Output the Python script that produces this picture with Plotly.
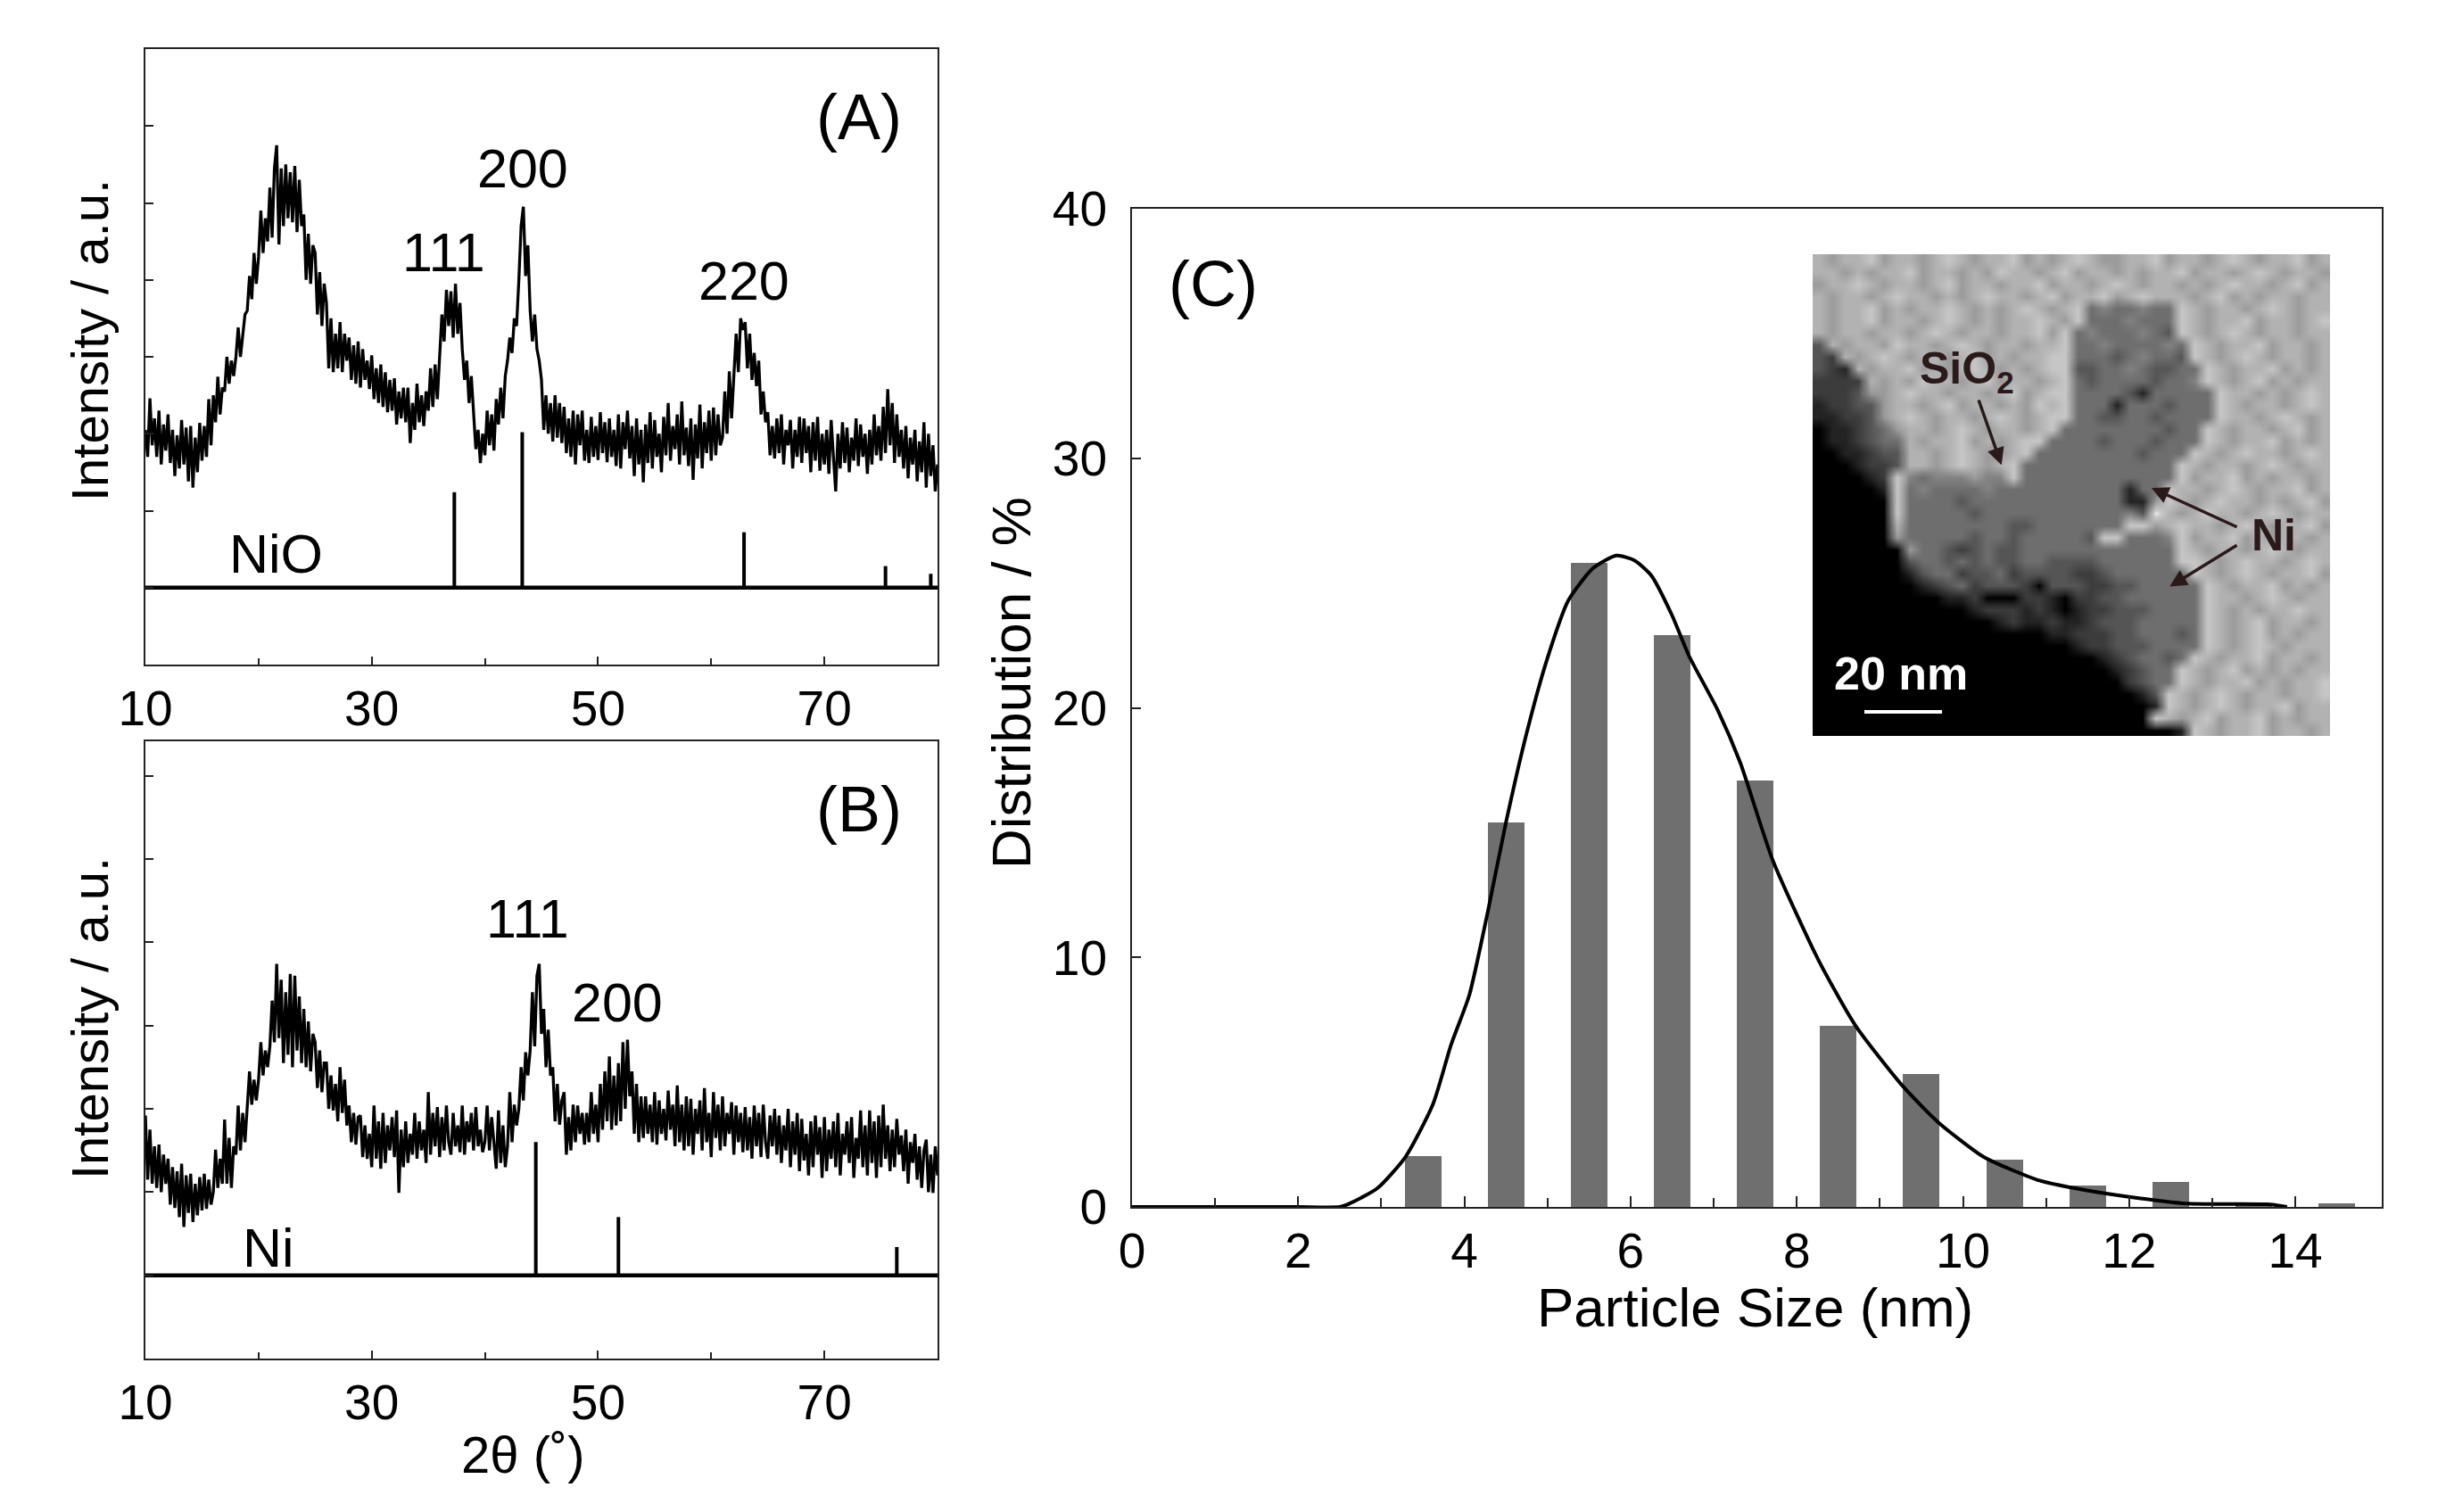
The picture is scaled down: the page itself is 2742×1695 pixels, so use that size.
import plotly.graph_objects as go

W, H = 2742, 1695
FONT = "Liberation Sans"

# ---------- data ----------
xrd_start = 10.0
xrd_step = 0.2

nio_intensity = [
 3.05,2.70,3.46,2.85,3.20, 2.70,3.30,2.60,3.12,2.78, 3.25,2.62,3.05,2.45,2.98, 2.55,3.18,2.60,3.08,2.38,
 3.10,2.30,2.95,2.50,3.14, 2.65,3.10,2.70,3.45,2.85, 3.50,3.15,3.74,3.25,3.60, 3.55,4.00,3.65,3.95,3.75,
 4.00,4.38,4.00,4.25,4.55, 4.60,5.05,4.75,5.35,4.95, 5.30,5.90,5.35,5.80,5.50, 6.20,5.55,6.45,6.75,5.46,
 6.45,5.70,6.50,5.80,6.40, 5.75,6.48,5.62,6.30,5.70, 5.85,5.00,5.60,4.95,5.45, 5.35,4.55,5.10,4.40,4.95,
 4.70,3.85,4.50,3.80,4.30, 3.85,4.45,3.80,4.30,3.95, 4.25,3.70,4.15,3.65,4.20, 3.60,4.10,3.70,3.95,3.58,
 4.02,3.45,3.85,3.40,3.90, 3.35,3.80,3.28,3.70,3.30, 3.72,3.12,3.55,3.20,3.60, 3.15,3.60,2.88,3.40,3.05,
 3.65,3.15,3.50,3.10,3.55, 3.30,3.85,3.35,3.90,3.45, 4.10,4.55,4.20,4.87,4.40, 4.85,4.25,4.95,4.30,4.70,
 4.10,3.70,3.95,3.40,3.75, 3.30,2.80,3.05,2.62,3.00, 2.72,3.30,2.85,3.25,2.78, 3.45,3.12,3.60,3.20,3.75,
 3.95,4.25,4.05,4.50,4.40, 5.00,5.70,5.95,5.05,5.45, 4.60,4.20,4.55,4.10,3.95, 3.70,3.05,3.50,3.00,3.40,
 2.90,3.50,2.95,3.40,2.88, 3.35,2.75,3.20,2.70,3.30, 2.60,3.25,2.85,3.30,2.65, 3.05,2.62,3.22,2.70,3.10,
 2.66,3.28,2.75,3.15,2.63, 3.20,2.70,3.05,2.58,3.25, 2.55,3.15,2.80,3.30,2.68, 3.10,2.45,3.20,2.60,3.05,
 2.37,3.12,2.62,3.28,2.55, 3.18,2.70,3.00,2.50,3.22, 2.72,3.40,2.65,3.10,2.80, 3.25,2.60,3.42,2.72,3.08,
 2.58,3.20,2.40,3.12,2.68, 3.38,2.55,3.15,2.75,3.30, 2.65,3.34,2.72,3.25,2.85, 2.95,3.55,3.00,3.81,3.20,
 3.75,4.30,3.80,4.50,4.35, 4.45,3.85,4.30,3.70,4.05, 3.62,3.95,3.25,3.55,3.15, 3.28,2.72,3.10,2.68,3.20,
 2.75,3.25,2.60,3.05,2.85, 3.18,2.55,3.05,2.70,3.22, 2.62,3.20,2.75,3.10,2.50, 3.15,2.65,3.22,2.52,3.00,
 2.60,3.05,2.48,3.18,2.70, 2.25,3.00,2.55,3.15,2.62, 3.08,2.50,2.95,2.65,3.20, 2.58,3.12,2.70,3.00,2.48,
 3.05,2.60,3.25,2.72,3.10, 2.65,3.35,2.75,3.58,2.85, 3.40,2.62,3.25,2.70,3.05, 2.55,3.10,2.42,2.95,2.60,
 3.05,2.38,2.90,2.50,3.15, 2.30,3.00,2.45,2.85,2.25, 2.60,
]

ni_intensity = [
 2.92,2.15,2.75,2.10,2.55, 2.05,2.57,2.00,2.45,2.10, 2.40,1.85,2.30,1.81,2.25, 1.70,2.34,1.58,2.20,1.75,
 2.22,1.64,2.10,1.72,2.18, 1.78,2.22,1.80,2.15,1.85, 2.00,2.51,2.05,2.40,2.10, 2.87,2.10,2.65,2.05,2.55,
 2.45,3.04,2.50,2.95,2.60, 2.98,3.45,3.05,3.35,3.10, 3.35,3.80,3.40,3.70,3.50, 3.75,4.30,3.80,4.74,3.85,
 4.55,3.55,4.40,3.65,4.62, 3.50,4.60,3.70,4.35,3.55, 4.20,3.50,4.05,3.45,3.90, 3.80,3.25,3.70,3.20,3.55,
 3.55,3.00,3.40,2.98,3.30, 2.85,3.50,2.95,3.35,2.80, 3.04,2.60,2.95,2.57,2.90, 2.92,2.42,2.80,2.40,2.70,
 2.30,3.04,2.40,2.85,2.28, 2.95,2.35,2.80,2.50,2.90, 2.42,2.98,1.99,2.75,2.30, 2.85,2.35,2.70,2.45,2.95,
 2.40,2.85,2.50,2.75,2.35, 3.20,2.45,2.95,2.55,3.02, 2.42,2.90,2.50,3.04,2.60, 2.45,2.95,2.55,2.80,2.48,
 3.04,2.45,2.85,2.60,2.95, 2.50,3.02,2.55,2.75,2.48, 2.60,3.04,2.50,2.90,2.55, 2.28,2.98,2.35,2.80,2.30,
 2.55,3.20,2.60,3.05,2.80, 3.00,3.50,3.10,3.68,3.40, 3.70,4.40,3.75,4.60,4.74, 3.90,4.20,3.50,3.95,3.40,
 3.50,2.85,3.30,2.81,3.10, 3.20,2.45,2.90,2.50,3.05, 2.60,3.04,2.70,2.95,2.57, 2.95,2.60,3.20,2.70,3.05,
 2.60,3.30,2.75,3.45,2.85, 3.63,2.75,3.40,2.80,3.55, 2.85,3.80,3.00,3.83,3.15, 3.45,2.70,3.30,2.60,3.15,
 2.65,3.15,2.70,3.05,2.60, 3.20,2.57,3.10,2.70,3.00, 2.62,3.22,2.75,3.05,2.55, 3.28,2.60,3.05,2.50,3.15,
 2.55,3.12,2.45,3.00,2.70, 3.10,2.50,3.25,2.60,2.95, 2.42,3.20,2.65,3.05,2.50, 3.15,2.55,2.95,2.70,3.08,
 2.45,3.04,2.60,2.95,2.48, 3.02,2.50,2.90,2.40,3.04, 2.55,2.95,2.42,3.05,2.60, 2.40,2.92,2.55,3.00,2.45,
 2.92,2.35,2.80,2.50,3.00, 2.30,2.85,2.45,2.95,2.25, 2.88,2.38,2.70,2.20,2.85, 2.30,2.92,2.45,2.78,2.17,
 2.90,2.25,2.75,2.40,2.85, 2.30,2.95,2.20,2.70,2.45, 2.85,2.35,2.90,2.17,2.65, 2.40,2.98,2.30,2.80,2.20,
 2.98,2.35,2.85,2.17,2.92, 2.30,3.05,2.40,2.80,2.25, 2.75,2.30,2.88,2.45,2.68, 2.25,2.75,2.10,2.60,2.35,
 2.70,2.15,2.55,2.05,2.50, 2.63,2.00,2.45,1.99,2.55, 2.20,
]

baseline_level = 1.0
nio_peaks = [37.3, 43.3, 62.9, 75.4, 79.4]
nio_peak_heights = [2.24, 3.02, 1.72, 1.28, 1.18]
ni_peaks = [44.5, 51.8, 76.4]
ni_peak_heights = [2.60, 1.70, 1.34]

bar_sizes = [3.5, 4.5, 5.5, 6.5, 7.5, 8.5, 9.5, 10.5, 11.5, 12.5, 13.5, 14.5]
bar_percent = [2.05, 15.4, 25.8, 22.9, 17.1, 7.25, 5.33, 1.89, 0.85, 0.99, 0.1, 0.15]

fit_size = [0, 1, 2, 2.5, 2.62, 2.95, 3.29, 3.62, 3.84, 4.06, 4.28, 4.5, 4.75, 5.0, 5.25, 5.55, 5.83,
            6.05, 6.25, 6.5, 6.7, 7.05, 7.32, 7.71, 8.26, 8.7, 9.26, 9.7, 10.25, 10.9, 11.36, 12.0,
            12.7, 13.7, 13.9]
fit_percent = [0, 0, 0, 0, 0.14, 0.74, 2.0, 4.1, 6.5, 8.5, 11.8, 15.4, 19.0, 22.0, 24.3, 25.6, 26.1,
               25.9, 25.3, 23.7, 22.1, 19.9, 17.8, 13.9, 9.9, 7.3, 4.9, 3.4, 2.0, 1.08, 0.74, 0.4,
               0.13, 0.1, 0]

# TEM inset: grey levels 0 (black) .. 9 (bright), one string per row
tem_rows = [
 "7677867767876778676787667786776787677867",
 "7767677867767687767867767677867767876776",
 "6778767767867767786776787677676787767867",
 "7677678776767877678677867877767867677677",
 "76778676778767678767" "8" "4544544" "8" "76776787677",
 "76778677678767677876" "8" "4445444" "8" "76778677678",
 "7677677678767767786" "8" "45444543" "8" "76787677677",
 "3" "767768776787677677" "8" "445444454" "8" "7677867767",
 "32" "76787677678676778" "8" "444345443" "8" "7678767767",
 "321" "7677867678767678" "8" "3344543344" "8" "767786767",
 "2222" "767687767867767" "8" "4344443445" "8" "767867677",
 "2223" "667877677678678" "8" "44443144444" "8" "77676787",
 "12233" "67767867767687" "8" "44414443444" "8" "76776787",
 "11223" "67876776787678" "8" "44334434444" "8" "77678767",
 "011234" "677678767767" "8" "44444444344" "8" "767767867",
 "0112344" "7677867678" "8" "444434443444" "8" "767786767",
 "0011233" "776787667" "8" "444444443444" "8" "7678776787",
 "0001223" "77678767" "8" "444444444444" "8" "76776787677",
 "000012" "8" "54555655" "8" "444444444444" "8" "67786767767",
 "000001" "8" "45444454444444444144" "8" "776787677867",
 "000000" "8" "44443444444444444" "11" "6" "8" "7678776767867",
 "000000" "8" "44444344444444444" "5" "3" "9" "7678776787677",
 "000000" "7" "44444444334444444" "88" "67877678767786",
 "000000" "6" "4444434434444438" "8" "4445" "8" "67786767767",
 "0000000" "6" "443234334444444" "4" "4444" "8" "76776787677",
 "0000000" "3" "44343433443333" "444444" "88" "7678776787",
 "0000000" "134423342333322344444" "4" "8" "7678767786",
 "00000000" "12342333203332233" "44444" "8" "767786767",
 "0000000000" "112000221022" "33" "444444" "8" "776787677",
 "000000000000" "122212101223334444" "8" "767677877",
 "00000000000000" "1211211233344444" "8" "767867767",
 "000000000000000000" "112223344434" "8" "767867677",
 "00000000000000000000" "1223334444" "8" "767876777",
 "0000000000000000000000" "1234434" "8" "7677867767",
 "00000000000000000000000" "12344" "8" "76786767677",
 "000000000000000000000000" "2344" "8" "767786767787",
 "0000000000000000000000000" "13" "8" "7678767767786",
 "00000000000000000000000000" "1" "8" "7678767786776",
 "00000000000000000000000000" "8" "7678677867677877",
 "0000000000000000000000000000" "1" "8" "7677867767",
]
tem_grey_stops = [0, 35, 60, 85, 110, 130, 155, 178, 198, 235]


# ---------- layout helpers ----------
def fx(px):
    return px / W


def fy(px):
    return 1 - px / H


fig = go.Figure()

xrd_x = [xrd_start + xrd_step * i for i in range(len(nio_intensity))]
fig.add_trace(go.Scatter(x=xrd_x, y=nio_intensity, mode="lines", line=dict(color="black", width=3.3),
                         xaxis="x", yaxis="y", showlegend=False))
fig.add_trace(go.Scatter(x=xrd_x, y=ni_intensity, mode="lines", line=dict(color="black", width=3.3),
                         xaxis="x2", yaxis="y2", showlegend=False))


def add_sticks(peaks, heights, xa, ya):
    fig.add_trace(go.Scatter(x=[10, 80], y=[baseline_level, baseline_level], mode="lines",
                             line=dict(color="black", width=4.5), xaxis=xa, yaxis=ya, showlegend=False))
    for p, h in zip(peaks, heights):
        fig.add_trace(go.Scatter(x=[p, p], y=[baseline_level, h], mode="lines",
                                 line=dict(color="black", width=4), xaxis=xa, yaxis=ya, showlegend=False))


add_sticks(nio_peaks, nio_peak_heights, "x", "y")
add_sticks(ni_peaks, ni_peak_heights, "x2", "y2")

fig.add_trace(go.Bar(x=bar_sizes, y=bar_percent, width=0.44, marker=dict(color="#6f6f6f", line=dict(width=0)),
                     xaxis="x3", yaxis="y3", showlegend=False))
fig.add_trace(go.Scatter(x=fit_size, y=fit_percent, mode="lines", line=dict(color="black", width=4, shape="spline", smoothing=0.6),
                         xaxis="x3", yaxis="y3", showlegend=False, cliponaxis=False))

tem_z = [[int(c) for c in r.ljust(40, "7")[:40]] for r in tem_rows]
scale = [[i / 9, f"rgb({g},{g},{g})"] for i, g in enumerate(tem_grey_stops)]
fig.add_trace(go.Heatmap(z=tem_z, x0=0.5, dx=1, y0=0.5, dy=1, colorscale=scale, zmin=0, zmax=9, showscale=False,
                         zsmooth="best", xaxis="x4", yaxis="y4", hoverinfo="skip"))
fig.add_trace(go.Scatter(x=[4, 10], y=[38, 38], mode="lines", line=dict(color="white", width=4),
                         xaxis="x4", yaxis="y4", showlegend=False))

line = dict(showline=True, linecolor="#222222", linewidth=2, mirror=True, zeroline=False, showgrid=False)
xrd_xaxis = dict(range=[10, 80], tickvals=[10, 30, 50, 70], ticks="inside", ticklen=9, tickwidth=1.5,
                 tickcolor="#222", minor=dict(tickvals=[20, 40, 60], ticks="inside", ticklen=7, tickcolor="#222"),
                 tickfont=dict(family=FONT, size=55, color="black"), ticklabelstandoff=0, **line)
xrd_yaxis = dict(dtick=1, ticks="inside", ticklen=9, tickwidth=1.5, tickcolor="#222", showticklabels=False, **line)

fig.update_layout(
    width=W, height=H, margin=dict(l=0, r=0, t=0, b=0, autoexpand=False), paper_bgcolor="white", plot_bgcolor="white",
    showlegend=False, bargap=0,
    xaxis=dict(domain=[fx(163), fx(1051)], anchor="y", **xrd_xaxis),
    yaxis=dict(domain=[fy(745), fy(55)], anchor="x", range=[0, 8], **xrd_yaxis),
    xaxis2=dict(domain=[fx(163), fx(1051)], anchor="y2", **xrd_xaxis),
    yaxis2=dict(domain=[fy(1523), fy(831)], anchor="x2", range=[0, 7.415], **xrd_yaxis),
    xaxis3=dict(domain=[fx(1269), fx(2670)], anchor="y3", range=[0, 15.04], tickvals=[0, 2, 4, 6, 8, 10, 12, 14],
                ticks="inside", ticklen=12, tickwidth=1.5, tickcolor="#222",
                minor=dict(tickvals=[1, 3, 5, 7, 9, 11, 13], ticks="inside", ticklen=10, tickcolor="#222"),
                tickfont=dict(family=FONT, size=55, color="black"), ticklabelstandoff=0, **line),
    yaxis3=dict(domain=[fy(1353), fy(234)], anchor="x3", range=[0, 40], tickvals=[0, 10, 20, 30, 40],
                ticks="inside", ticklen=10, tickwidth=1.5, tickcolor="#222",
                tickfont=dict(family=FONT, size=55, color="black"), ticklabelstandoff=15, **line),
    xaxis4=dict(domain=[fx(2032), fx(2612)], anchor="y4", range=[0, 40], visible=False),
    yaxis4=dict(domain=[fy(825), fy(285)], anchor="x4", range=[40, 0], visible=False),
)


def label(text, x, y, size, color="black", angle=0, bold=False):
    fig.add_annotation(text=f"<b>{text}</b>" if bold else text, xref="paper", yref="paper", x=fx(x), y=fy(y),
                       showarrow=False, textangle=angle, xanchor="center", yanchor="middle",
                       font=dict(family=FONT, size=size, color=color))


label("(A)", 963, 131, 72)
label("(B)", 963, 907, 72)
label("(C)", 1360, 318, 72)
label("200", 586, 189, 61)
label("111", 497, 283, 61)
label("220", 834, 315, 61)
label("NiO", 309, 621, 61)
label("111", 591, 1030, 61)
label("200", 692, 1124, 61)
label("Ni", 301, 1399, 61)
label("Intensity / a.u.", 100, 382, 58, angle=-90)
label("Intensity / a.u.", 100, 1142, 58, angle=-90)
label("2θ (˚)", 586, 1630, 58)
label("Particle Size (nm)", 1967, 1465, 62)
label("Distribution / %", 1133, 766, 62, angle=-90)

label("20 nm", 2131, 755, 52, color="white", bold=True)
label("SiO<sub>2</sub>", 2205, 416, 50, color="#2a1a1a", bold=True)
label("Ni", 2549, 600, 50, color="#2a1a1a", bold=True)

for (tx, ty, ax, ay) in [(14.6, 17.5, 12.8, 12.0), (26.2, 19.4, 32.9, 22.7), (27.6, 27.6, 32.9, 24.1)]:
    fig.add_annotation(x=tx, y=ty, ax=ax, ay=ay, xref="x4", yref="y4", axref="x4", ayref="y4", text="",
                       showarrow=True, arrowhead=2, arrowsize=1.1, arrowwidth=3.5, arrowcolor="#2a1a1a")

fig.write_html("out.html", config=dict(displayModeBar=False),
               post_script="document.body.style.margin='0';document.documentElement.style.overflow='hidden';")
